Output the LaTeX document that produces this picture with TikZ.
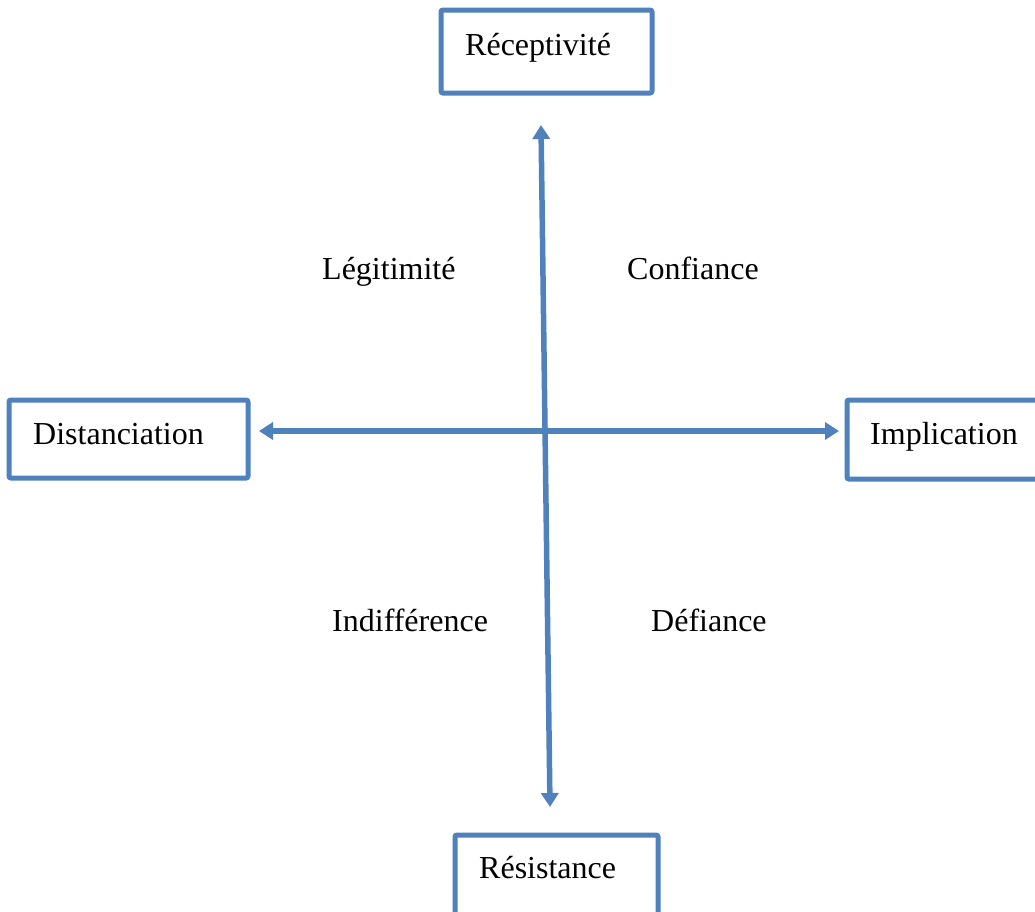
\documentclass[tikz,border=0pt]{standalone}
\usepackage{fontspec}
\setmainfont{Liberation Serif}
\usetikzlibrary{arrows.meta}
\definecolor{axisblue}{RGB}{79,129,189}
\tikzset{
  box/.style={draw=axisblue, line width=5pt, rounded corners=2pt},
  lbl/.style={font=\fontsize{32}{38}\selectfont, inner sep=0pt, anchor=base west},
  axis/.style={draw=axisblue, line width=5.5pt, {Triangle[width=17pt,length=14pt]}-{Triangle[width=17pt,length=14pt]}}
}
\begin{document}
\begin{tikzpicture}[x=1pt,y=-1pt]
\clip (0,0) rectangle (1035,911);
\fill[white] (0,0) rectangle (1035,911);
% boxes
\draw[box] (441,10) rectangle (652,93);
\draw[box] (9,400) rectangle (248,478);
\draw[box] (847,400) rectangle (1045,479);
\draw[box] (455,835) rectangle (658,925);
% box labels
\node[lbl] (rec) at (465,55) {Réceptivité};
\node[lbl] (dis) at (33,444) {Distanciation};
\node[lbl] (imp) at (870,444) {Implication};
\node[lbl] (res) at (479,878) {Résistance};
% quadrant labels
\node[lbl] (leg) at (322,279) {Légitimité};
\node[lbl] (con) at (627,279) {Confiance};
\node[lbl] (ind) at (332,631) {Indifférence};
\node[lbl] (def) at (651,631) {Défiance};
% axes
\coordinate (vtop) at (541,125);
\coordinate (vbot) at (550,807);
\coordinate (hleft) at (259,431);
\coordinate (hright) at (839,431);
\draw[axis] (vtop) -- (vbot);
\draw[axis] (hleft) -- (hright);
\end{tikzpicture}
\end{document}
